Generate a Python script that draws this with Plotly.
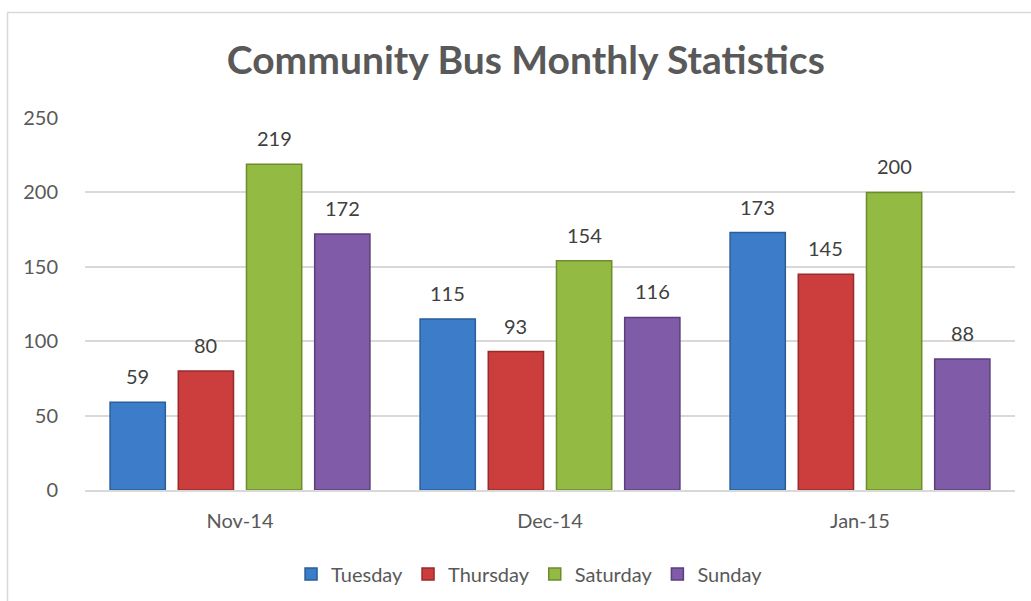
import plotly.graph_objects as go

months = ["Nov-14", "Dec-14", "Jan-15"]
tuesday = [59, 115, 173]
thursday = [80, 93, 145]
saturday = [219, 154, 200]
sunday = [172, 116, 88]

series = [
    ("Tuesday", tuesday, "#3D7CC9", "#2A5D99"),
    ("Thursday", thursday, "#CC3D3D", "#982B2B"),
    ("Saturday", saturday, "#93BB44", "#6C8C2E"),
    ("Sunday", sunday, "#7F5BA8", "#5C3F7E"),
]

FONT = "Lato, Open Sans, sans-serif"
BARGAP = 0.12
GROUPGAP = 0.19

fig = go.Figure()
n = len(series)
slot = (1 - BARGAP) / n
for i, (name, vals, fill, edge) in enumerate(series):
    fig.add_trace(go.Bar(
        name=name, x=months, y=vals,
        marker=dict(color=fill, line=dict(color=edge, width=1.5)),
    ))
    # value labels above each bar, placed at the bar's centre within its group
    offset = (i - (n - 1) / 2) * slot
    for j, v in enumerate(vals):
        fig.add_annotation(x=j + offset, y=v, xref="x", yref="y", text=str(v),
                           showarrow=False, yanchor="bottom", yshift=12,
                           font=dict(family=FONT, size=20, color="#404040"))

fig.update_layout(
    width=1031, height=601,
    paper_bgcolor="white", plot_bgcolor="white",
    margin=dict(l=85, r=16, t=118, b=111, autoexpand=False),
    barmode="group", bargap=BARGAP, bargroupgap=GROUPGAP,
    title=dict(text="<b>Community Bus Monthly Statistics</b>",
               x=0.51, xanchor="center", y=0.9, yanchor="middle",
               font=dict(family=FONT, size=39, color="#595959")),
    font=dict(family=FONT, color="#595959"),
    legend=dict(orientation="h", x=0.478, xanchor="center", y=-0.226, yanchor="middle",
                font=dict(size=20, color="#595959"), itemwidth=30, traceorder="normal"),
    showlegend=True,
)
fig.update_yaxes(range=[0, 250], dtick=50, showgrid=True, gridcolor="#D9D9D9", gridwidth=1.5,
                 zeroline=False, showline=False, ticks="outside", ticklen=22, tickcolor="rgba(0,0,0,0)",
                 tickfont=dict(size=20, color="#595959"))
fig.update_xaxes(showline=True, linecolor="#D9D9D9", linewidth=1.5, ticks="outside", ticklen=12,
                 tickcolor="rgba(0,0,0,0)", tickfont=dict(size=20, color="#595959"))

# outer chart frame
fig.add_shape(type="rect", xref="paper", yref="paper",
              x0=(7.5 - 85) / 930, x1=1.2, y0=-0.5, y1=(490 - 12.5) / 372,
              line=dict(color="#D9D9D9", width=1.5), fillcolor="rgba(0,0,0,0)", layer="below")

fig.write_html("out.html")
